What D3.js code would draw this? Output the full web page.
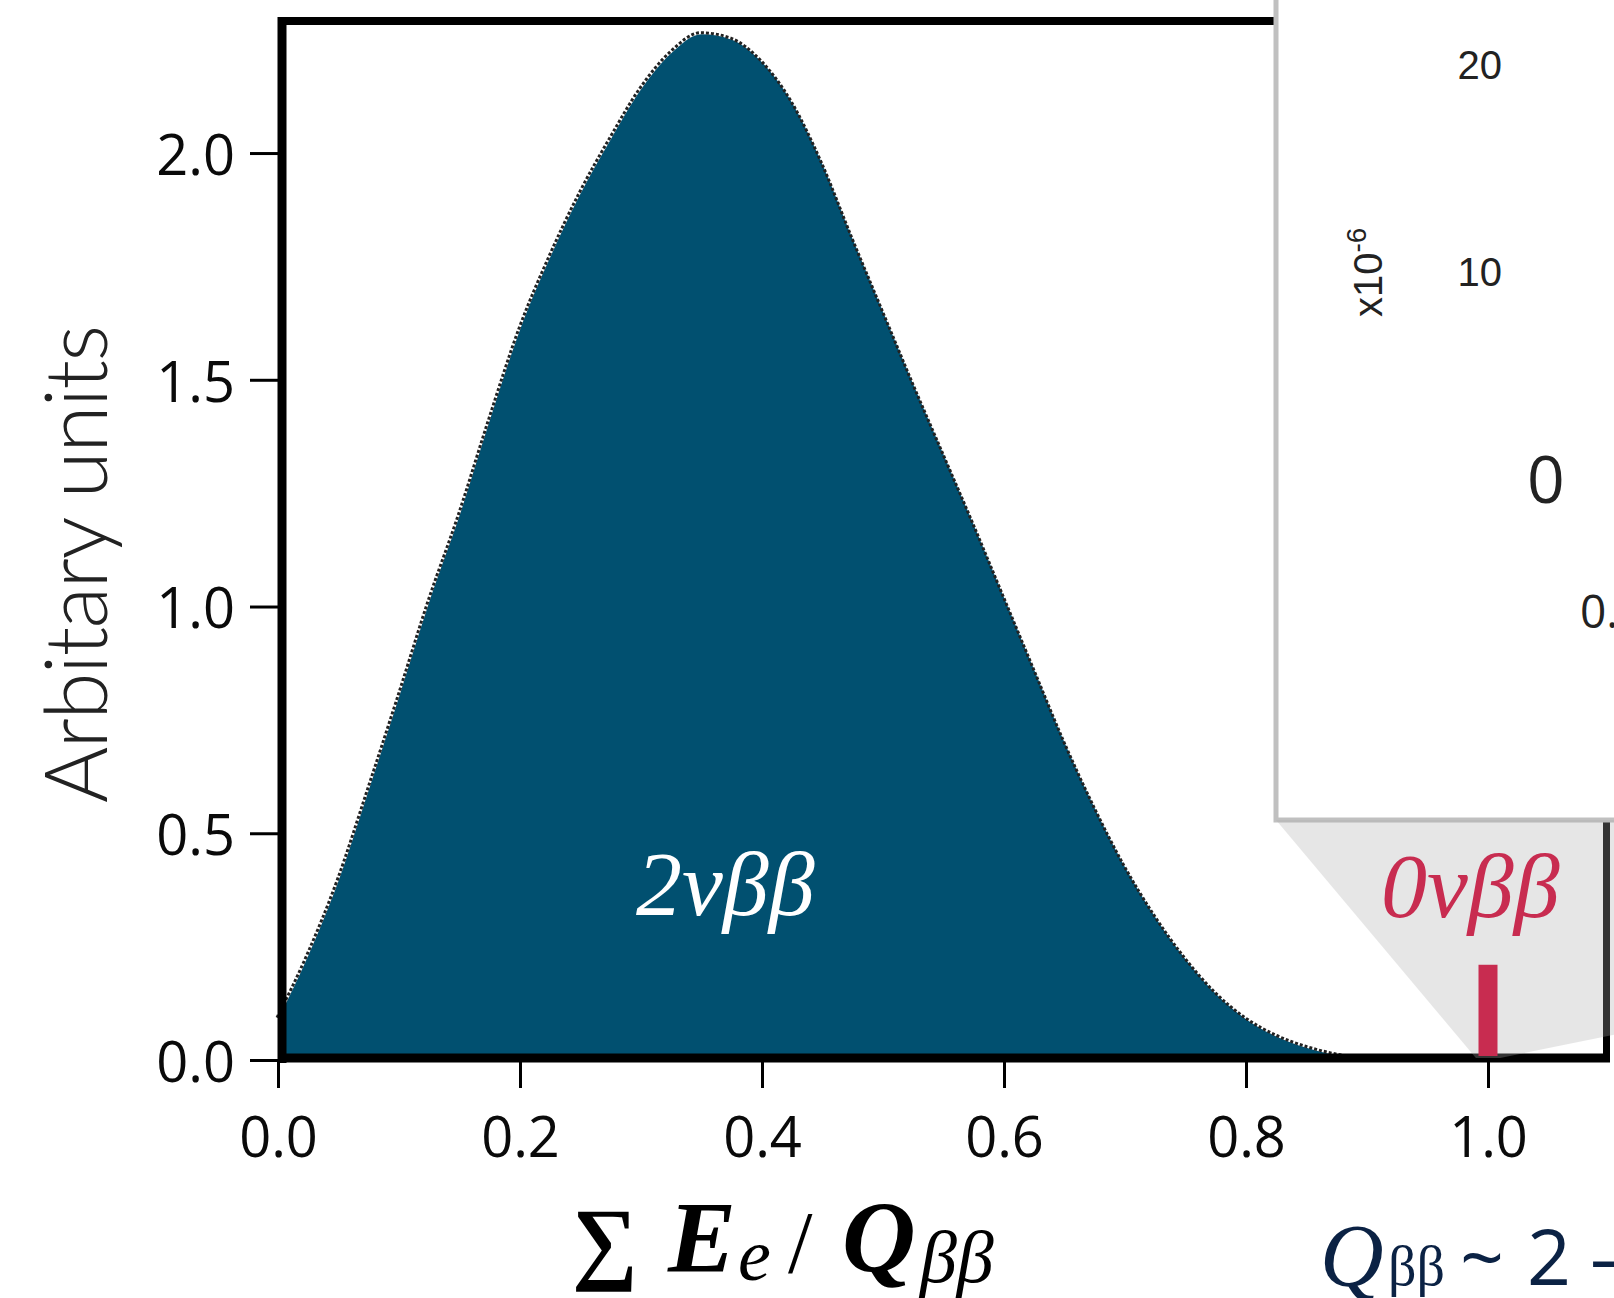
<!DOCTYPE html>
<html>
<head>
<meta charset="utf-8">
<script src="https://cdnjs.cloudflare.com/ajax/libs/d3/7.8.5/d3.min.js"></script>
<style>
  body { margin: 0; background: #fff; }
  svg { display: block; }
  .serif { font-family: "Liberation Serif", "Times New Roman", Times, serif; }
  .sans { font-family: "Open Sans", sans-serif; }
</style>
</head>
<body>
<svg width="1614" height="1298"></svg>
<script>
// 2vbb spectrum (sum of electron energies / Q)
var energy = [0, 0.025, 0.05, 0.075, 0.1, 0.125, 0.15, 0.175, 0.2, 0.225, 0.25, 0.275, 0.3, 0.325,
  0.35, 0.375, 0.4, 0.425, 0.45, 0.475, 0.5, 0.525, 0.55, 0.575, 0.6, 0.625, 0.65, 0.675,
  0.7, 0.725, 0.75, 0.775, 0.8, 0.825, 0.85, 0.875, 0.9];
var counts = [0.09, 0.23, 0.395, 0.595, 0.8, 1.01, 1.2, 1.41, 1.61, 1.77, 1.91, 2.03, 2.14, 2.22,
  2.262, 2.25, 2.2, 2.11, 1.975, 1.81, 1.65, 1.49, 1.335, 1.18, 1.02, 0.86, 0.7, 0.555,
  0.425, 0.315, 0.222, 0.146, 0.09, 0.052, 0.027, 0.01, 0];
// 0vbb line at the endpoint
var peakEnergy = 1.0;
var peakHeight = 0.21;
var xTicks = [0, 0.2, 0.4, 0.6, 0.8, 1.0];
var yTicks = [0, 0.5, 1.0, 1.5, 2.0];
// zoomed inset (mostly cut off in the figure)
var insetTicks = [10, 20];
var insetRange = [0.99, 1.01];

var svg = d3.select("svg");
var x = d3.scaleLinear().domain([0, 1.1]).range([278, 1609]);
var y = d3.scaleLinear().domain([0, 2.3]).range([1060, 17]);

var spectrum = energy.map(function(e, i) {
  return { e: e, v: counts[i] };
});

// filled spectrum
var area = d3.area()
  .x(function(d) { return x(d.e); })
  .y0(y(0))
  .y1(function(d) { return y(d.v); })
  .curve(d3.curveMonotoneX);
svg.append("path")
  .datum(spectrum)
  .attr("fill", "#015070")
  .attr("d", area);

// dotted outline sitting just on top of the fill
var line = d3.line()
  .x(function(d) { return x(d.e); })
  .y(function(d) { return y(d.v); })
  .curve(d3.curveMonotoneX);
svg.append("path")
  .datum(spectrum)
  .attr("fill", "none")
  .attr("stroke", "#222")
  .attr("stroke-width", 3)
  .attr("stroke-dasharray", "3,2")
  .attr("transform", "translate(-1,-1.5)")
  .attr("d", line);

svg.append("text")
  .attr("class", "serif")
  .attr("x", 636)
  .attr("y", 915)
  .attr("fill", "#fff")
  .attr("font-style", "italic")
  .attr("font-size", 92)
  .text("2νββ");

// frame
var frame = svg.append("g").attr("stroke", "#000");
frame.append("line")
  .attr("x1", x(0) + 4).attr("x2", x(0) + 4)
  .attr("y1", y(2.3)).attr("y2", y(0) + 3)
  .attr("stroke-width", 9);
frame.append("line")
  .attr("x1", x(0)).attr("x2", 1300)
  .attr("y1", y(2.3) + 4).attr("y2", y(2.3) + 4)
  .attr("stroke-width", 8);
frame.append("line")
  .attr("x1", x(0)).attr("x2", x(1.1) + 1)
  .attr("y1", y(0) - 2).attr("y2", y(0) - 2)
  .attr("stroke-width", 9);
frame.append("line")
  .attr("x1", x(1.1) - 2.5).attr("x2", x(1.1) - 2.5)
  .attr("y1", 800).attr("y2", y(0) + 2)
  .attr("stroke-width", 7);

// axes
var yAxis = svg.append("g")
  .attr("transform", "translate(" + x(0) + ",0)")
  .call(d3.axisLeft(y).tickValues(yTicks).tickSize(28).tickPadding(15).tickFormat(d3.format(".1f")));
var xAxis = svg.append("g")
  .attr("transform", "translate(0," + y(0) + ")")
  .call(d3.axisBottom(x).tickValues(xTicks).tickSize(28).tickPadding(29).tickFormat(d3.format(".1f")));
[xAxis, yAxis].forEach(function(g) {
  g.select(".domain").remove();
  g.attr("font-family", null).attr("class", "sans").attr("font-size", 56);
  g.selectAll(".tick line").attr("stroke", "#000").attr("stroke-width", 3);
  g.selectAll(".tick text").attr("fill", "#0a0a0a");
});
yAxis.selectAll(".tick text").attr("dy", "0.38em");

// axis labels
svg.append("text")
  .attr("transform", "translate(107,564) rotate(-90)")
  .attr("text-anchor", "middle")
  .attr("fill", "#222")
  .attr("font-family", "Lato")
  .attr("font-weight", 300)
  .attr("font-size", 86)
  .attr("textLength", 478)
  .attr("lengthAdjust", "spacing")
  .text("Arbitary units");

var xTitle = svg.append("text")
  .attr("class", "serif")
  .attr("y", 1272)
  .attr("fill", "#000");
xTitle.append("tspan").attr("x", 572).attr("font-weight", "bold").attr("font-size", 92).text("∑");
xTitle.append("tspan").attr("x", 668).attr("font-weight", "bold").attr("font-style", "italic").attr("font-size", 102).text("E");
xTitle.append("tspan").attr("x", 738).attr("dy", 8).attr("font-style", "italic").attr("font-size", 74).text("e");
xTitle.append("tspan").attr("x", 788).attr("dy", -8).attr("font-size", 88).text("/");
xTitle.append("tspan").attr("x", 842).attr("font-weight", "bold").attr("font-style", "italic").attr("font-size", 102).text("Q");
xTitle.append("tspan").attr("x", 920).attr("dy", 10).attr("font-style", "italic").attr("font-size", 74).text("ββ");

// inset panel
var insetY = d3.scaleLinear().domain([0, 20]).range([479.5, 64.5]);
svg.append("rect")
  .attr("x", 1276).attr("y", -10)
  .attr("width", 1400).attr("height", 830)
  .attr("fill", "#fff")
  .attr("stroke", "#c0c0c0")
  .attr("stroke-width", 5);
svg.append("g")
  .selectAll("text")
  .data(insetTicks)
  .join("text")
  .attr("x", 1502)
  .attr("y", function(d) { return insetY(d); })
  .attr("dy", "0.36em")
  .attr("text-anchor", "end")
  .attr("fill", "#222")
  .attr("font-family", "Liberation Sans")
  .attr("font-size", 40)
  .text(function(d) { return d; });
var expo = svg.append("text")
  .attr("transform", "translate(1382,317) rotate(-90)")
  .attr("fill", "#222")
  .attr("font-family", "Liberation Sans")
  .attr("font-size", 40);
expo.append("tspan").text("x10");
expo.append("tspan").attr("dy", -16).attr("font-size", 28).text("-6");
svg.append("text")
  .attr("class", "sans")
  .attr("x", 1527)
  .attr("y", insetY(0))
  .attr("dy", "0.36em")
  .attr("fill", "#222")
  .attr("font-size", 66)
  .text("0");
svg.append("text")
  .attr("class", "sans")
  .attr("x", 1580)
  .attr("y", 628)
  .attr("fill", "#222")
  .attr("font-size", 46)
  .text("0.");

// zoom connector from the inset down to the peak region
svg.append("polygon")
  .attr("points", [[1276, 820], [x(insetRange[0]), y(0) - 2], [x(insetRange[1]), y(0) - 2], [2660, 820]]
    .map(function(p) { return p.join(","); }).join(" "))
  .attr("fill", "#ababab")
  .attr("fill-opacity", 0.3);

// 0vbb peak
svg.append("rect")
  .attr("x", x(peakEnergy) - 9.5)
  .attr("y", y(peakHeight))
  .attr("width", 19)
  .attr("height", y(0) - 4 - y(peakHeight))
  .attr("fill", "#c82c50");
svg.append("text")
  .attr("class", "serif")
  .attr("x", 1381)
  .attr("y", 917)
  .attr("fill", "#c82c50")
  .attr("font-style", "italic")
  .attr("font-size", 92)
  .text("0νββ");

// Q value note
var qNote = svg.append("text")
  .attr("y", 1285)
  .attr("fill", "#0b2244");
qNote.append("tspan").attr("class", "serif").attr("x", 1320).attr("font-style", "italic").attr("font-size", 88).text("Q");
qNote.append("tspan").attr("class", "serif").attr("x", 1388).attr("font-size", 56).text("ββ");
qNote.append("tspan").attr("class", "sans").attr("x", 1460).attr("font-size", 77).text("~");
qNote.append("tspan").attr("class", "sans").attr("x", 1527).attr("font-size", 77).text("2");
qNote.append("tspan").attr("class", "sans").attr("x", 1590).attr("font-size", 77).text("–");
</script>
</body>
</html>
